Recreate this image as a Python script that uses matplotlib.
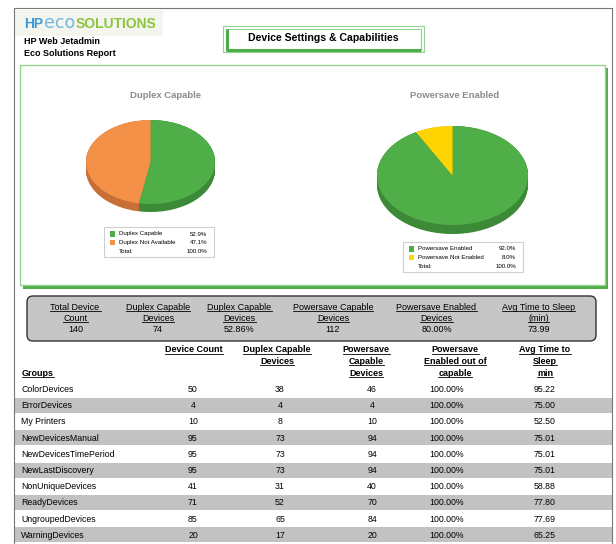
import matplotlib
matplotlib.use("Agg")
import matplotlib.pyplot as plt
from matplotlib.patches import Rectangle, FancyBboxPatch
import numpy as np

plt.rcParams['font.family'] = ['Liberation Sans', 'DejaVu Sans']

# --- DATA ---
duplex_labels = ['Duplex Capable', 'Duplex Not Available']
duplex_pct = [52.9, 47.1]
power_labels = ['Powersave Enabled', 'Powersave Not Enabled']
power_pct = [92.0, 8.0]

summary_heads = [('Total Device ', 'Count'), ('Duplex Capable', 'Devices'),
                 ('Duplex Capable', 'Devices'), ('Powersave Capable', 'Devices'),
                 ('Powersave Enabled', 'Devices'), ('Avg Time to Sleep', '(min)')]
summary_values = ['140', '74', '52.86%', '112', '80.00%', '73.99']

table_heads = [['Device Count'], ['Duplex Capable', 'Devices'],
               ['Powersave', 'Capable', 'Devices'],
               ['Powersave', 'Enabled out of', 'capable'],
               ['Avg Time to', 'Sleep', 'min']]
groups = ['ColorDevices', 'ErrorDevices', 'My Printers', 'NewDevicesManual',
          'NewDevicesTimePeriod', 'NewLastDiscovery', 'NonUniqueDevices',
          'ReadyDevices', 'UngroupedDevices', 'WarningDevices']
device_count = [50, 4, 10, 95, 95, 95, 41, 71, 85, 20]
duplex_capable = [38, 4, 8, 73, 73, 73, 31, 52, 65, 17]
powersave_capable = [46, 4, 10, 94, 94, 94, 40, 70, 84, 20]
powersave_enabled = [100.00, 100.00, 100.00, 100.00, 100.00,
                     100.00, 100.00, 100.00, 100.00, 100.00]
avg_sleep = [95.22, 75.00, 52.50, 75.01, 75.01, 75.01, 58.88, 77.80, 77.69, 65.25]

# --- COLOURS ---
GREEN = '#50ae48'
GREEN_D = '#3c8a37'
ORANGE = '#f39149'
ORANGE_D = '#c76f34'
YELLOW = '#ffd400'
YELLOW_D = '#c9a800'
LIGHT_GREEN = '#93d28e'

W, H = 616, 544
fig = plt.figure(figsize=(W / 100, H / 100), dpi=100)
ax = fig.add_axes([0, 0, 1, 1])
ax.set_xlim(0, W)
ax.set_ylim(H, 0)
ax.axis('off')

underlined = []

# page border
ax.plot([14, 14, 612, 612], [H, 8, 8, H], color='#777777', lw=0.8)

# logo
ax.add_patch(Rectangle((15, 10), 148, 26, fc='#f4f5ee', ec='none'))
t_hp = ax.text(24, 28, 'HP', fontsize=10, fontweight='bold', color='#3d9ad8', va='baseline')
ax.text(24, 41, 'HP Web Jetadmin', fontsize=6.5, fontweight='bold', va='center')
ax.text(24, 53, 'Eco Solutions Report', fontsize=6.5, fontweight='bold', va='center')

# title box
ax.add_patch(Rectangle((222.5, 26), 201.5, 26, fc='white', ec=LIGHT_GREEN, lw=0.8))
ax.add_patch(Rectangle((226, 29), 195, 20, fc='white', ec=LIGHT_GREEN, lw=0.8))
ax.plot([226.5, 226.5, 421], [29, 50, 50], color=GREEN, lw=2.2, solid_capstyle='butt')
ax.text(323, 38, 'Device Settings & Capabilities', fontsize=7.6, fontweight='bold',
        ha='center', va='center')

# chart panel
ax.add_patch(Rectangle((23, 68), 585, 221, fc=GREEN, ec='none'))
ax.add_patch(Rectangle((20, 65), 585, 220, fc='white', ec=LIGHT_GREEN, lw=1))

ax.text(166, 95, 'Duplex Capable', fontsize=6.8, fontweight='bold', color='#8c8c8c',
        ha='center', va='center')
ax.text(455, 95, 'Powersave Enabled', fontsize=6.8, fontweight='bold', color='#8c8c8c',
        ha='center', va='center')


def draw_pie(left, top, width, height, depth, values, colors, darks):
    axp = fig.add_axes([left / W, 1 - (top + height) / H, width / W, height / H])
    ry = (height - depth) / 2
    d = depth / ry
    for k in np.linspace(d, 0, 14):
        axp.pie(values, colors=darks, startangle=90, counterclock=False,
                center=(0, -k), radius=1, frame=True,
                wedgeprops=dict(linewidth=0))
    axp.pie(values, colors=colors, startangle=90, counterclock=False,
            center=(0, 0), radius=1, frame=True, wedgeprops=dict(linewidth=0))
    axp.set_xlim(-1, 1)
    axp.set_ylim(-1 - d, 1)
    axp.set_aspect('auto')
    axp.axis('off')


draw_pie(86, 120, 129, 92, 8, duplex_pct, [GREEN, ORANGE], [GREEN_D, ORANGE_D])
draw_pie(377, 126, 151, 108, 9, power_pct, [GREEN, YELLOW], [GREEN_D, YELLOW_D])


def draw_legend(x0, y0, w, h, labels, pcts, colors):
    ax.add_patch(Rectangle((x0, y0), w, h, fc='white', ec='#cfcfcf', lw=0.8))
    rows = [y0 + 7, y0 + 15.5, y0 + 24.5]
    for lab, p, c, yy in zip(labels, pcts, colors, rows):
        ax.add_patch(Rectangle((x0 + 5.5, yy - 2.7), 5.4, 5.4, fc=c, ec='none'))
        ax.text(x0 + 15, yy, lab, fontsize=4.4, va='center')
        ax.text(x0 + w - 7, yy, f'{p:.1f}%', fontsize=4.4, va='center', ha='right')
    ax.text(x0 + 15, rows[2], 'Total:', fontsize=4.4, va='center')
    ax.text(x0 + w - 7, rows[2], f'{sum(pcts):.1f}%', fontsize=4.4, va='center', ha='right')


draw_legend(104, 227, 110, 30, duplex_labels, duplex_pct, [GREEN, ORANGE])
draw_legend(403, 242, 120, 30, power_labels, power_pct, [GREEN, YELLOW])

# summary box
ax.add_patch(FancyBboxPatch((27, 296), 569, 45, boxstyle='round,pad=0,rounding_size=6',
                            fc='#c6c6c6', ec='#333333', lw=1))
sum_x = [75.5, 158, 239.5, 333, 436.5, 538.5]
for x, (h1, h2), v in zip(sum_x, summary_heads, summary_values):
    underlined.append(ax.text(x, 307, h1, fontsize=6.5, ha='center', va='center'))
    underlined.append(ax.text(x, 318.5, h2, fontsize=6.5, ha='center', va='center'))
    ax.text(x, 330, v, fontsize=6.5, ha='center', va='center')

# table header
head_x = [194, 277, 366, 455, 545]
for x, lines in zip(head_x, table_heads):
    for i, line in enumerate(lines):
        underlined.append(ax.text(x, 350 + 11.5 * i, line, fontsize=6.5, fontweight='bold',
                                  ha='center', va='center'))
underlined.append(ax.text(22, 373, 'Groups', fontsize=6.5, fontweight='bold', va='center'))

# table rows
col_x = [193, 280, 372, 447, 545]
for i, g in enumerate(groups):
    yc = 389.5 + 16.2 * i
    if i % 2 == 1:
        ax.add_patch(Rectangle((14.5, yc - 8), 598, 15, fc='#c2c2c2', ec='none'))
    ax.text(21, yc, g, fontsize=6.3, va='center')
    vals = [str(device_count[i]), str(duplex_capable[i]), str(powersave_capable[i]),
            f'{powersave_enabled[i]:.2f}%', f'{avg_sleep[i]:.2f}']
    for x, v in zip(col_x, vals):
        ax.text(x, yc, v, fontsize=6.3, ha='center', va='center')

# logo pieces placed after measuring, then underlines
fig.canvas.draw()
renderer = fig.canvas.get_renderer()
inv = ax.transData.inverted()

bb = t_hp.get_window_extent(renderer)
x_end = inv.transform([[bb.x1, bb.y0]])[0][0]
t_eco = ax.text(x_end + 0.5, 28, 'eco', fontsize=12.5, fontweight='normal', color='#5aaee0',
                va='baseline', family='DejaVu Sans', alpha=0.85)
bb = t_eco.get_window_extent(renderer)
x_end = inv.transform([[bb.x1, bb.y0]])[0][0]
ax.text(x_end + 0.5, 28, 'SOLUTIONS', fontsize=10, fontweight='bold', color='#8cc43f',
        va='baseline')

for t in underlined:
    bb = t.get_window_extent(renderer)
    (x0, ya), (x1, yb) = inv.transform([[bb.x0, bb.y0], [bb.x1, bb.y1]])
    yl = max(ya, yb) - 0.9
    ax.plot([x0, x1], [yl, yl], color='black', lw=0.6)

fig.savefig('out.png', dpi=100)
